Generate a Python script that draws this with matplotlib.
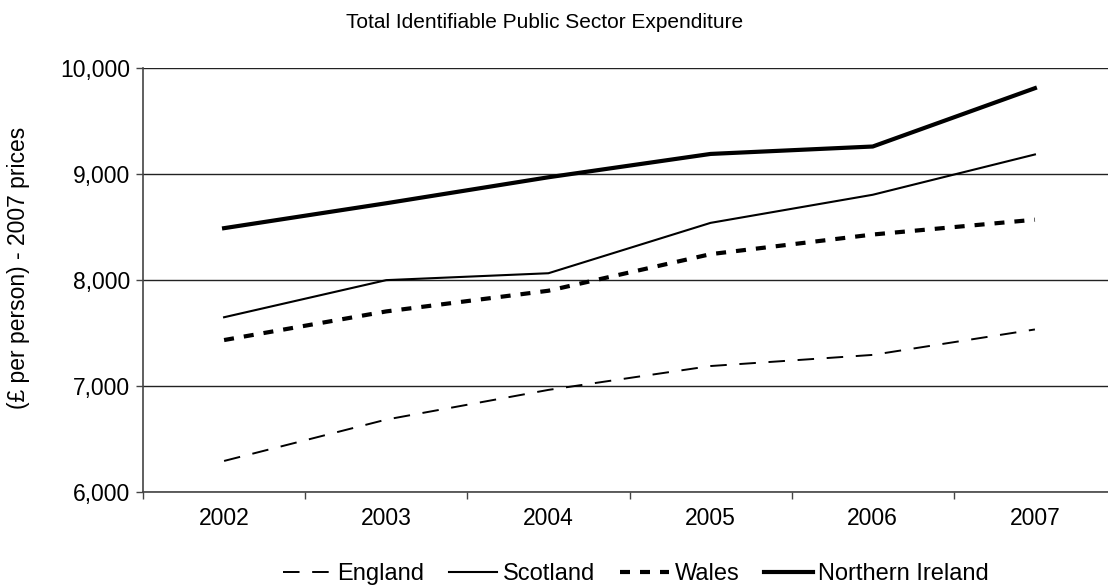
import matplotlib
matplotlib.use("Agg")
import matplotlib.pyplot as plt
from matplotlib.ticker import FixedLocator, FuncFormatter

plt.rcParams['font.family'] = ['Liberation Sans', 'DejaVu Sans']

years = ['2002', '2003', '2004', '2005', '2006', '2007']
england = [6290, 6680, 6960, 7185, 7290, 7530]
scotland = [7645, 7995, 8060, 8535, 8800, 9180]
wales = [7430, 7700, 7895, 8240, 8425, 8565]
northern_ireland = [8485, 8720, 8965, 9185, 9255, 9805]

fig = plt.figure(figsize=(11.08, 5.88), dpi=100)
ax = fig.add_axes([143 / 1108, 1 - 491.7 / 588, 973 / 1108, 424.2 / 588])

x = list(range(len(years)))
ax.plot(x, england, color='black', lw=1.4, linestyle=(0, (8.5, 6.5)),
        dash_capstyle='butt', label='England')
ax.plot(x, scotland, color='black', lw=1.5, label='Scotland')
ax.plot(x, wales, color='black', lw=3.0, linestyle=(0, (2.4, 2.4)),
        dash_capstyle='butt', label='Wales')
ax.plot(x, northern_ireland, color='black', lw=3.0, label='Northern Ireland')

ax.set_xlim(-0.5, len(years) - 0.5)
ax.set_ylim(6000, 10000)

fs = 16.5
ax.set_xticks(x)
ax.set_xticklabels(years)
ax.xaxis.set_minor_locator(FixedLocator([i - 0.5 for i in range(len(years) + 1)]))
ax.tick_params(axis='x', which='major', length=0, pad=11, labelsize=fs)
ax.tick_params(axis='x', which='minor', length=5, width=1, color='#444444', direction='out')

ax.set_yticks([6000, 7000, 8000, 9000, 10000])
ax.yaxis.set_major_formatter(FuncFormatter(lambda v, p: f'{int(v):,}'))
ax.tick_params(axis='y', length=5, width=1, color='#444444', direction='out',
               pad=4, labelsize=fs)

ax.grid(axis='y', color='#222222', lw=1)
ax.set_axisbelow(True)
for side in ('top', 'right'):
    ax.spines[side].set_visible(False)
for side in ('left', 'bottom'):
    ax.spines[side].set_color('#444444')
    ax.spines[side].set_linewidth(1.2)

fig.text(545 / 1108, 1 - 23 / 588, 'Total Identifiable Public Sector Expenditure',
         ha='center', va='center', fontsize=15)
fig.text(19 / 1108, 1 - 268 / 588, '(£ per person) - 2007 prices',
         rotation=90, ha='center', va='center', fontsize=fs)

fig.legend(loc='center', bbox_to_anchor=(636 / 1108, 1 - 574 / 588), ncol=4,
           frameon=False, fontsize=17, handlelength=2.05, handletextpad=0.25,
           columnspacing=1.05, borderpad=0, borderaxespad=0)

fig.savefig('out.png', dpi=100)
